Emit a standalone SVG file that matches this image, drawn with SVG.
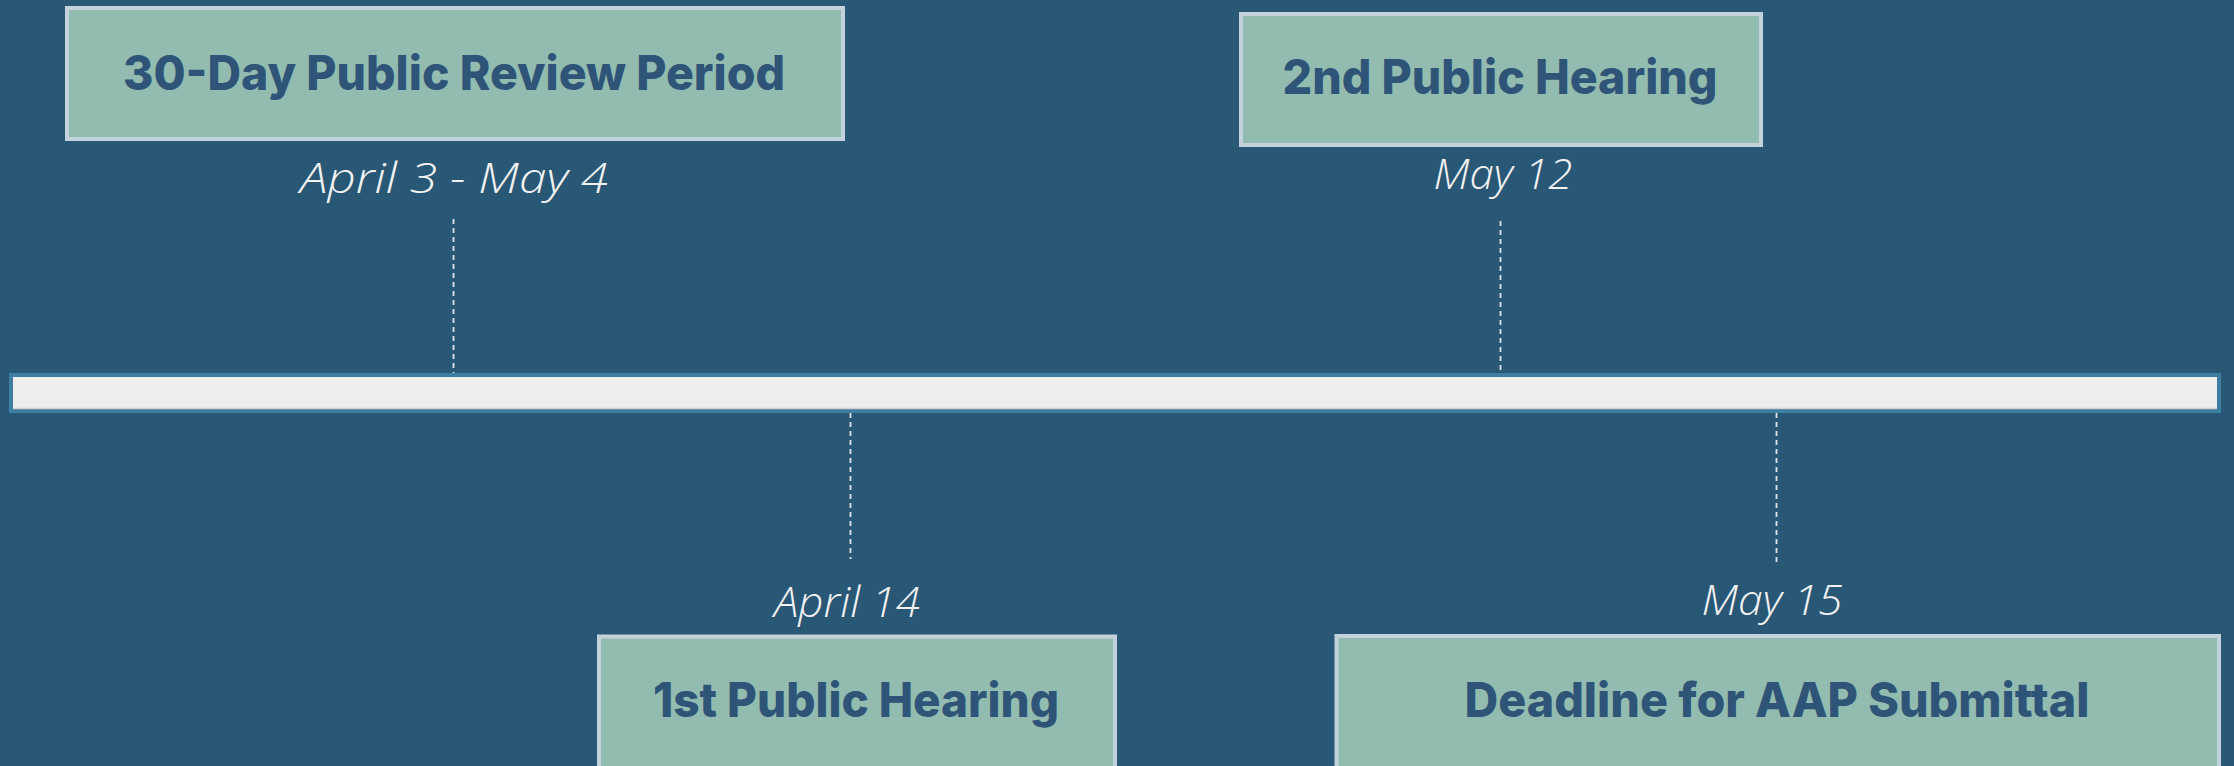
<svg xmlns="http://www.w3.org/2000/svg" width="2234" height="766" viewBox="0 0 2234 766">
<style>
.box{fill:#93bcb0;stroke:#c3d2dc;stroke-width:4}
.title{font-family:Inter,"Open Sans","Liberation Sans",sans-serif;font-weight:800;font-size:48px;fill:#2e5578;text-anchor:middle}
.date{font-family:"Open Sans","Liberation Sans",sans-serif;font-style:italic;font-weight:300;font-size:42px;fill:#f2f2f2;text-anchor:middle}
.dash{stroke:#dde4ea;stroke-width:1.8;stroke-dasharray:5 4;fill:none}
</style>
<rect x="0" y="0" width="2234" height="766" fill="#295776"/>
<g id="timeline">
<rect x="11" y="375" width="2208" height="36" fill="#eeedeb" stroke="#3e7ea2" stroke-width="4"/>
<line x1="13" y1="408.5" x2="2217" y2="408.5" stroke="#d2d2d2" stroke-width="1.5"/>
</g>
<g id="connectors">
<line class="dash" x1="453.5" y1="219" x2="453.5" y2="373"/>
<line class="dash" x1="1500.5" y1="221" x2="1500.5" y2="373"/>
<line class="dash" x1="850.5" y1="413" x2="850.5" y2="559"/>
<line class="dash" x1="1776.5" y1="413" x2="1776.5" y2="565"/>
</g>
<g id="node-review">
<rect class="box" x="67" y="8" width="776" height="131"/>
<text class="title" x="454" y="90" textLength="662" lengthAdjust="spacingAndGlyphs">30-Day Public Review Period</text>
<text class="date" x="454" y="193" textLength="308" lengthAdjust="spacingAndGlyphs">April 3 - May 4</text>
</g>
<g id="node-hearing2">
<rect class="box" x="1241" y="14" width="520" height="131"/>
<text class="title" x="1500" y="94" textLength="435" lengthAdjust="spacingAndGlyphs">2nd Public Hearing</text>
<text class="date" x="1503" y="189" textLength="139" lengthAdjust="spacingAndGlyphs">May 12</text>
</g>
<g id="node-hearing1">
<rect class="box" x="599" y="636.5" width="516" height="200"/>
<text class="title" x="856" y="717" textLength="406" lengthAdjust="spacingAndGlyphs">1st Public Hearing</text>
<text class="date" x="847" y="617" textLength="146" lengthAdjust="spacingAndGlyphs">April 14</text>
</g>
<g id="node-deadline">
<rect class="box" x="1336.5" y="636" width="882.5" height="200"/>
<text class="title" x="1777" y="717" textLength="625" lengthAdjust="spacingAndGlyphs">Deadline for AAP Submittal</text>
<text class="date" x="1772" y="615" textLength="141" lengthAdjust="spacingAndGlyphs">May 15</text>
</g>
</svg>
